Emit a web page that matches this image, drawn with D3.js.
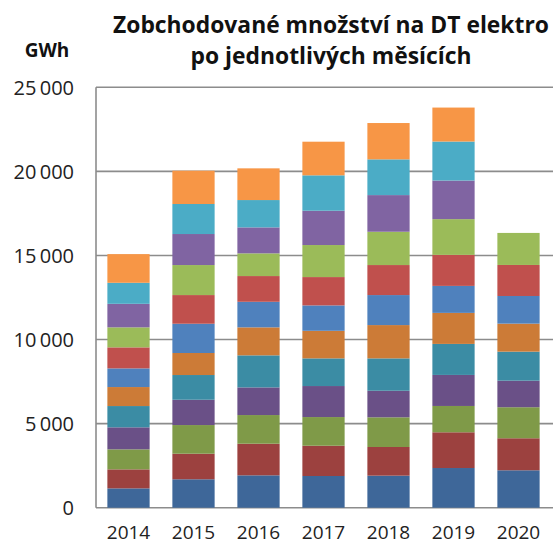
<!DOCTYPE html>
<html>
<head>
<meta charset="utf-8">
<script src="https://cdn.jsdelivr.net/npm/d3@7"></script>
<style>
  html, body { margin: 0; padding: 0; background: #fff; }
  svg { display: block; }
</style>
</head>
<body>
<svg id="chart" width="553" height="545"></svg>
<script>
const years = ["2014", "2015", "2016", "2017", "2018", "2019", "2020"];
const months = ["leden", "únor", "březen", "duben", "květen", "červen", "červenec", "srpen", "září", "říjen", "listopad", "prosinec"];
const monthColors = ["#3E6799", "#9C413F", "#7F9A48", "#6A5087", "#3B8CA4", "#CC7B37",
                     "#4F81BD", "#C0504D", "#9BBB59", "#8064A2", "#4BACC6", "#F79646"];
// GWh per month, one array per year
const v2014 = [1150, 1130, 1190, 1310, 1265, 1130, 1110, 1250, 1190, 1400, 1250, 1705];
const v2015 = [1690, 1520, 1705, 1505, 1470, 1310, 1740, 1705, 1785, 1845, 1785, 1980];
const v2016 = [1925, 1880, 1705, 1645, 1905, 1665, 1520, 1530, 1350, 1545, 1625, 1885];
const v2017 = [1885, 1800, 1705, 1845, 1645, 1640, 1510, 1685, 1905, 2040, 2105, 2000];
const v2018 = [1905, 1705, 1765, 1580, 1925, 1980, 1785, 1785, 1980, 2180, 2125, 2160];
const v2019 = [2360, 2125, 1565, 1845, 1845, 1845, 1605, 1845, 2125, 2295, 2320, 2020];
const v2020 = [2225, 1905, 1845, 1580, 1725, 1665, 1645, 1845, 1905];
const yTicks = [0, 5000, 10000, 15000, 20000, 25000];
const titleLines = ["Zobchodované množství na DT elektro", "po jednotlivých měsících"];
const unitLabel = "GWh";

const valuesByYear = [v2014, v2015, v2016, v2017, v2018, v2019, v2020];

const svg = d3.select("#chart");
const FONT = "'Open Sans', 'Noto Sans', sans-serif";

const plot = { left: 96, right: 551, top: 87.3, bottom: 507.7 };

const x = d3.scaleBand().domain(years).range([plot.left, plot.right]).paddingInner(0.35).paddingOuter(0.175);
const y = d3.scaleLinear().domain([0, 25000]).range([plot.bottom, plot.top]);

const locale = d3.formatLocale({ decimal: ",", thousands: "\u2009", grouping: [3], currency: ["", " Kč"] });
const fmt = locale.format(",d");

// gridlines
svg.append("g").selectAll("line").data(yTicks).join("line")
  .attr("x1", plot.left).attr("x2", 553)
  .attr("y1", d => y(d)).attr("y2", d => y(d))
  .attr("stroke", "#8c8c8c").attr("stroke-width", 1.6);

// left axis line
svg.append("line")
  .attr("x1", plot.left).attr("x2", plot.left)
  .attr("y1", y(25000)).attr("y2", y(0))
  .attr("stroke", "#8c8c8c").attr("stroke-width", 1.6);

// stacked data
const rows = years.map((yr, i) => {
  const r = { year: yr };
  months.forEach((m, j) => { r[m] = valuesByYear[i][j] != null ? valuesByYear[i][j] : 0; });
  return r;
});
const stack = d3.stack().keys(months)(rows);

const color = d3.scaleOrdinal().domain(months).range(monthColors);

svg.append("g").selectAll("g").data(stack).join("g")
  .attr("fill", d => color(d.key))
  .selectAll("rect").data(d => d.filter(s => s[1] - s[0] > 0)).join("rect")
  .attr("x", d => x(d.data.year))
  .attr("width", x.bandwidth())
  .attr("y", d => y(d[1]))
  .attr("height", d => y(d[0]) - y(d[1]));

// y tick labels
svg.append("g").selectAll("text").data(yTicks).join("text")
  .attr("x", 74).attr("y", d => y(d))
  .attr("dy", "0.36em")
  .attr("text-anchor", "end")
  .attr("font-family", FONT).attr("font-size", 20).attr("fill", "#222")
  .text(d => fmt(d));

// x labels
svg.append("g").selectAll("text").data(years).join("text")
  .attr("x", d => x(d) + x.bandwidth() / 2).attr("y", 539)
  .attr("text-anchor", "middle")
  .attr("font-family", FONT).attr("font-size", 19).attr("fill", "#222")
  .text(d => d);

// unit label
svg.append("text")
  .attr("x", 47).attr("y", 56.7)
  .attr("text-anchor", "middle")
  .attr("font-family", FONT).attr("font-weight", "bold").attr("font-size", 19).attr("fill", "#111")
  .text(unitLabel);

// title
svg.append("g").selectAll("text").data(titleLines).join("text")
  .attr("x", 331).attr("y", (d, i) => i === 0 ? 33.3 : 63.5)
  .attr("text-anchor", "middle")
  .attr("font-family", FONT).attr("font-weight", "bold").attr("font-size", 23).attr("fill", "#111")
  .attr("textLength", (d, i) => i === 0 ? 436 : 281)
  .attr("lengthAdjust", "spacingAndGlyphs")
  .text(d => d);
</script>
</body>
</html>
